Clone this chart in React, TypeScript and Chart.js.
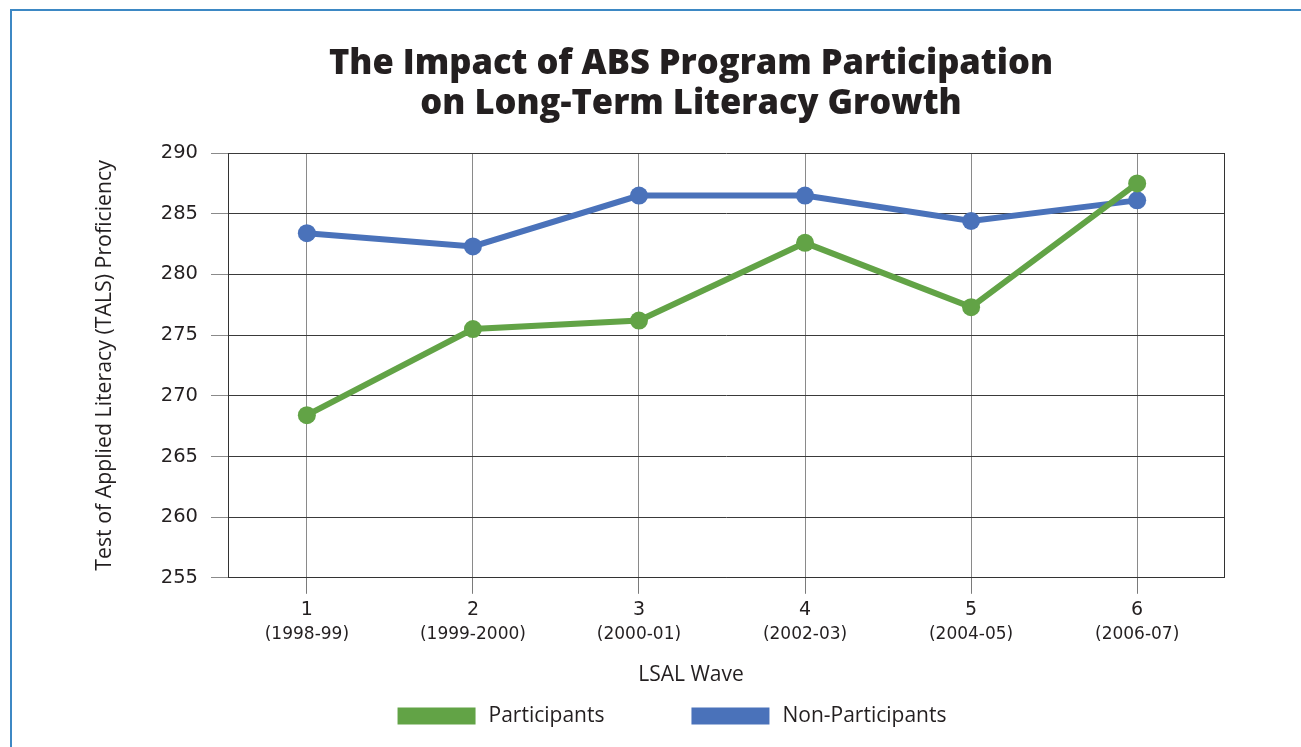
import React, { useEffect, useRef } from 'react';
import { Chart, registerables } from 'chart.js';

Chart.register(...registerables);

// ---- data ----
const waves = [1, 2, 3, 4, 5, 6];
const waveYears = ['(1998-99)', '(1999-2000)', '(2000-01)', '(2002-03)', '(2004-05)', '(2006-07)'];
const participants = [268.4, 275.5, 276.2, 282.6, 277.3, 287.5];
const nonParticipants = [283.4, 282.3, 286.5, 286.5, 284.4, 286.1];
const yTicks = [255, 260, 265, 270, 275, 280, 285, 290];
const titleLines = ['The Impact of ABS Program Participation', 'on Long-Term Literacy Growth'];
const seriesNames = ['Participants', 'Non-Participants'];
const seriesColors = ['#62a346', '#4a72ba'];
const xTitle = 'LSAL Wave';
const yTitle = 'Test of Applied Literacy (TALS) Proficiency';

const TEXT = '#231f20';
const X_MIN = 0.525;
const X_MAX = 6.523;

const legendPlugin = {
  id: 'customLegend',
  afterDraw(chart: any) {
    const ctx = chart.ctx as CanvasRenderingContext2D;
    const ds = chart.data.datasets;
    ctx.save();
    ctx.font = '21px "Open Sans"';
    const boxW = 78, boxH = 17, gapBox = 13, gapItem = 87;
    const widths = ds.map((d: any) => ctx.measureText(d.label).width);
    const total = widths.reduce((s: number, w: number) => s + boxW + gapBox + w, 0) + gapItem * (ds.length - 1);
    let x = chart.width / 2 - 19 - total / 2;
    const y = chart.height - 31;
    ctx.textBaseline = 'middle';
    ctx.textAlign = 'left';
    ds.forEach((d: any, i: number) => {
      ctx.fillStyle = d.borderColor;
      ctx.fillRect(x, y - boxH / 2, boxW, boxH);
      x += boxW + gapBox;
      ctx.fillStyle = TEXT;
      ctx.fillText(d.label, x, y);
      x += widths[i] + gapItem;
    });
    ctx.restore();
  },
};

const setWaveTicks = (s: any) => {
  s.ticks = waves.map((v) => ({ value: v }));
};

export default function App() {
  const ref = useRef<HTMLCanvasElement>(null);

  useEffect(() => {
    const series = [participants, nonParticipants];
    const chart = new Chart(ref.current as HTMLCanvasElement, {
      type: 'line',
      data: {
        datasets: series.map((vals, i) => ({
          label: seriesNames[i],
          data: waves.map((w, j) => ({ x: w, y: vals[j] })),
          borderColor: seriesColors[i],
          backgroundColor: seriesColors[i],
          pointBackgroundColor: seriesColors[i],
          borderWidth: 6,
          pointRadius: 9,
          pointHoverRadius: 9,
          pointBorderWidth: 0,
          tension: 0,
          fill: false,
          xAxisID: 'x',
          yAxisID: 'y',
          clip: false as any,
        })),
      },
      options: {
        animation: false,
        responsive: true,
        maintainAspectRatio: false,
        events: [],
        layout: { padding: { left: 0, right: 0, top: 0, bottom: 50 } },
        plugins: {
          legend: { display: false },
          tooltip: { enabled: false },
          title: {
            display: true,
            text: titleLines,
            color: TEXT,
            font: { family: '"Open Sans"', size: 34.5, weight: 800, lineHeight: 1.16 },
            padding: { top: 44, bottom: 29 },
          },
          subtitle: {
            display: true,
            position: 'bottom',
            text: xTitle,
            color: TEXT,
            font: { family: '"Open Sans"', size: 21, lineHeight: 1.2 },
            padding: { top: 14, bottom: 9 },
          },
        },
        scales: {
          x: {
            type: 'linear',
            position: 'bottom',
            min: X_MIN,
            max: X_MAX,
            weight: 0,
            afterBuildTicks: setWaveTicks,
            afterFit: (s: any) => {
              s.height = 45;
            },
            grid: { color: '#8a8a8a', tickColor: '#7a7a7a', tickLength: 16, lineWidth: 1 },
            border: { display: true, color: '#333333' },
            ticks: {
              autoSkip: false,
              maxRotation: 0,
              padding: 5,
              color: TEXT,
              font: { family: '"DejaVu Sans"', size: 19 },
              callback: (v: any) => String(v),
            },
          },
          x2: {
            type: 'linear',
            position: 'bottom',
            min: X_MIN,
            max: X_MAX,
            weight: 1,
            afterBuildTicks: setWaveTicks,
            afterFit: (s: any) => {
              s.height = 26;
            },
            grid: { display: false, drawTicks: false },
            border: { display: false },
            ticks: {
              autoSkip: false,
              maxRotation: 0,
              padding: 2,
              color: TEXT,
              font: { family: '"DejaVu Sans"', size: 17 },
              callback: (v: any) => waveYears[waves.indexOf(v)],
            },
          },
          y: {
            type: 'linear',
            position: 'left',
            min: 255,
            max: 290,
            afterBuildTicks: (s: any) => {
              s.ticks = yTicks.map((v) => ({ value: v }));
            },
            afterFit: (s: any) => {
              s.width = 147;
            },
            grid: { color: '#3a3a3a', tickColor: '#8a8a8a', tickLength: 17, lineWidth: 1 },
            border: { display: true, color: '#333333' },
            ticks: {
              padding: 13,
              color: TEXT,
              font: { family: '"DejaVu Sans"', size: 19.5 },
            },
            title: {
              display: true,
              text: yTitle,
              color: TEXT,
              font: { family: '"Open Sans"', size: 21.3, lineHeight: 1.2 },
              padding: { top: 11, bottom: 0 },
            },
          },
          y2: {
            type: 'linear',
            position: 'right',
            min: 255,
            max: 290,
            afterFit: (s: any) => {
              s.width = 77;
            },
            grid: { display: false, drawTicks: false },
            border: { display: true, color: '#333333' },
            ticks: { display: false },
          },
        },
      } as any,
      plugins: [legendPlugin],
    });
    return () => chart.destroy();
  }, []);

  return (
    <div
      style={{
        position: 'absolute',
        left: 0,
        top: 0,
        width: 1301,
        height: 747,
        overflow: 'hidden',
        background: '#ffffff',
      }}
    >
      <div
        style={{
          position: 'absolute',
          left: 10,
          top: 9,
          right: -10,
          bottom: -10,
          borderLeft: '2px solid #3d88c4',
          borderTop: '2px solid #3d88c4',
        }}
      />
      <div style={{ position: 'absolute', left: 81, top: 0, width: 1220, height: 747 }}>
        <canvas ref={ref} />
      </div>
    </div>
  );
}
